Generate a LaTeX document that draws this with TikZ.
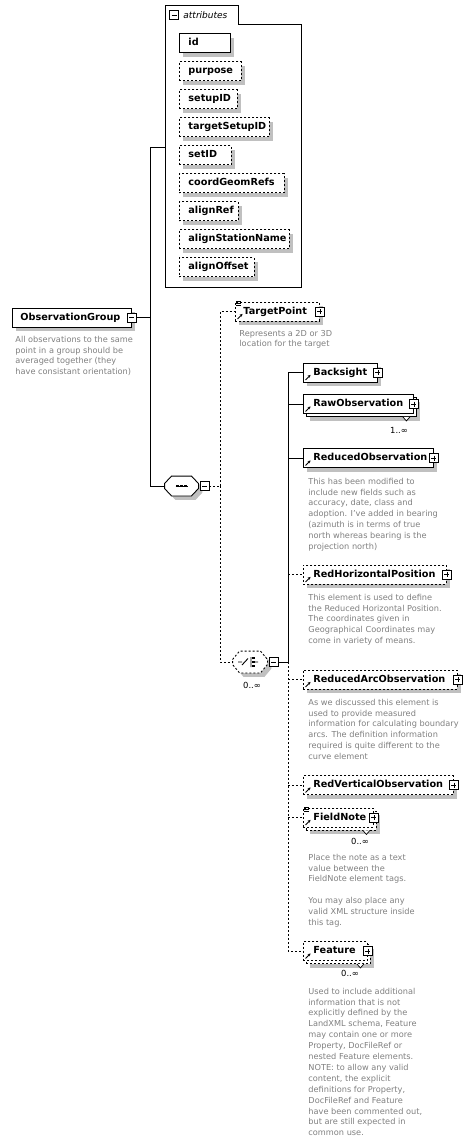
\documentclass[tikz,border=0pt]{standalone}
\usepackage{fontspec}
\setmainfont{DejaVu Sans}
\usetikzlibrary{arrows.meta,shadows,positioning}
\definecolor{shadowgray}{RGB}{192,192,192}
\definecolor{descgray}{RGB}{128,128,128}
\newcommand{\elemfont}{\bfseries\fontsize{9.7}{11}\selectfont}
\newcommand{\descfont}{\fontsize{8.2}{10.9}\selectfont}
\newcommand{\occfont}{\fontsize{8.4}{9}\selectfont}
\newcommand{\refarrow}[1]{\draw[line width=0.9pt, -{Stealth[length=2.8pt,width=3pt]}]
  ([xshift=2.5pt,yshift=2.5pt]#1.south west) -- ++(5,-5);}
\newcommand{\docmark}[1]{\foreach \k in {0,2,4}
  \draw[line width=0.7pt] ([xshift=1pt,yshift=-\k pt]#1.north west) -- ++(5,0);}
\newcommand{\octpath}[1]{([yshift=2.5pt]#1.west) -- ([xshift=7pt]#1.north west)
  -- ([xshift=-7pt]#1.north east) -- ([yshift=2.5pt]#1.east) -- ([yshift=-2.5pt]#1.east)
  -- ([xshift=-7pt]#1.south east) -- ([xshift=7pt]#1.south west) -- ([yshift=-2.5pt]#1.west) -- cycle}
\tikzset{
  opt/.style={dash pattern=on 2pt off 2pt},
  box/.style={draw, fill=white, font=\elemfont, anchor=west, align=left,
    minimum height=19pt, inner ysep=0pt, inner xsep=10pt, text height=7.2pt, text depth=2pt},
  elem/.style={box, drop shadow={shadow xshift=4pt, shadow yshift=-4pt, fill=shadowgray, opacity=1}},
  multi/.style={box, drop shadow={shadow xshift=7pt, shadow yshift=-7pt, fill=shadowgray, opacity=1},
    copy shadow={shadow xshift=3pt, shadow yshift=-3pt, fill=white, draw, #1}},
  multi/.default={},
  attr/.style={elem, inner xsep=9pt},
  comp/.style={inner sep=0pt, draw=none},
  minus/.style={draw, fill=white, minimum size=9pt, inner sep=0pt, line width=0.8pt,
    path picture={\draw ([xshift=2pt]path picture bounding box.west) -- ([xshift=-2pt]path picture bounding box.east);}},
  plus/.style={draw, fill=white, minimum size=9pt, inner sep=0pt, line width=0.8pt,
    path picture={\draw ([xshift=2pt]path picture bounding box.west) -- ([xshift=-2pt]path picture bounding box.east)
      ([yshift=-2pt]path picture bounding box.north) -- ([yshift=2pt]path picture bounding box.south);}},
  desc/.style={font=\descfont, text=descgray, anchor=north west, align=left, inner sep=0pt},
  occ/.style={font=\occfont, inner sep=0pt},
}
\begin{document}
\begin{tikzpicture}[x=1pt, y=-1pt, line width=0.9pt]
  \fill[white] (0,0) rectangle (472,1143);
  \useasboundingbox (0,0) rectangle (472,1143);

  % attributes
  \draw (165,287) -- (165,5) -- (238,5) -- (238,24) -- (301,24) -- (301,287) -- cycle;
  \node[minus] (attr-x) at (174,15) {};
  \node[font=\itshape\fontsize{9}{10}\selectfont, anchor=west, inner sep=0pt] (attr-lbl) at (183,15) {attributes};
  \coordinate (attrin) at (165,147);
  \node[attr, text width=33pt] (a1) at (179,43) {id};
  \foreach \name/\w [count=\i from 2] in {purpose/44, setupID/40, targetSetupID/72, setID/34,
      coordGeomRefs/87, alignRef/41, alignStationName/92, alignOffset/57}
    \node[attr, opt, text width=\w pt] (a\i) at (179,15+28*\i) {\name};

  % root
  \node[elem, text width=103pt, inner xsep=8pt] (og) at (12,317.5) {ObservationGroup};
  \node[minus] (og-x) at (og.east) {};
  \node[desc] (og-doc) at (15,335.5) {All observations to the same\\point in a group should be\\averaged together (they\\have consistant orientation)};

  % sequence
  \node[comp, minimum width=33pt, minimum height=19pt] (seq) at (181.5,486) {};
  \fill[shadowgray, transform canvas={shift={(4pt,-4pt)}}] \octpath{seq};
  \draw[fill=white] \octpath{seq};
  \draw ([xshift=-6pt]seq.center) -- ([xshift=6pt]seq.center);
  \foreach \d in {-4,0,4}
    \fill ([xshift=\d pt]seq.center) +(-1.3,-1.3) rectangle +(1.3,1.3);
  \node[minus] (seq-x) at (204.5,486) {};

  \coordinate (busA) at (150,147);
  \coordinate (busB) at (150,486);
  \draw (attrin) -- (busA) -- (busB) -- (seq.west);
  \draw (og-x.east) -- (og-x.east -| busA);

  % TargetPoint
  \node[elem, opt, text width=68pt, inner xsep=8pt] (tp) at (235,311.5) {TargetPoint};
  \node[desc] (tp-doc) at (239,329.5) {Represents a 2D or 3D\\location for the target};

  % choice
  \node[comp, minimum width=34pt, minimum height=21pt] (cho) at (250,662) {};
  \fill[shadowgray, transform canvas={shift={(4pt,-4pt)}}] \octpath{cho};
  \draw[opt, fill=white] \octpath{cho};
  \draw ([xshift=-12pt]cho.center) -- ([xshift=-8pt]cho.center)
    ([xshift=-8pt,yshift=-3pt]cho.center) -- ([xshift=-2pt,yshift=3.5pt]cho.center)
    ([xshift=1pt,yshift=5pt]cho.center) -- ([xshift=1pt,yshift=-5pt]cho.center)
    ([xshift=4pt]cho.center) -- ([xshift=8pt]cho.center);
  \foreach \d in {-4,0,4}
    \fill ([xshift=3.5pt,yshift=\d pt]cho.center) +(-1.3,-1.3) rectangle +(1.3,1.3);
  \node[minus] (cho-x) at (273.5,662) {};
  \node[occ] (cho-occ) at (252,685) {0..∞};

  \coordinate (b2) at (220,486);
  \draw[opt] (seq-x.east) -- (b2);
  \draw[opt] (b2) |- (tp.west);
  \draw[opt] (b2) |- (cho.west);

  % children
  \node[elem, text width=54pt] (bs) at (303,372.5) {Backsight};
  \node[multi, text width=90pt] (raw) at (303,404) {RawObservation};
  \node[occ] (raw-occ) at (399,430) {1..∞};
  \node[elem, text width=110pt] (redobs) at (303,458) {ReducedObservation};
  \node[desc] (redobs-doc) at (308,477.5) {This has been modified to\\include new fields such as\\accuracy, date, class and\\adoption. I've added in bearing\\(azimuth is in terms of true\\north whereas bearing is the\\projection north)};
  \node[elem, opt, text width=123pt] (rhp) at (303,574.5) {RedHorizontalPosition};
  \node[desc] (rhp-doc) at (308,593.5) {This element is used to define\\the Reduced Horizontal Position.\\The coordinates given in\\Geographical Coordinates may\\come in variety of means.};
  \node[elem, opt, text width=134pt] (rao) at (303,679.5) {ReducedArcObservation};
  \node[desc] (rao-doc) at (308,698.5) {As we discussed this element is\\used to provide measured\\information for calculating boundary\\arcs. The definition information\\required is quite different to the\\curve element};
  \node[elem, opt, text width=130pt] (rvo) at (303,785) {RedVerticalObservation};
  \node[multi=opt, opt, text width=50pt] (fnote) at (303,817.5) {FieldNote};
  \node[occ] (fnote-occ) at (360,841) {0..∞};
  \node[desc] (fnote-doc) at (308,853.5) {Place the note as a text\\value between the\\FieldNote element tags.\\[10.9pt]You may also place any\\valid XML structure inside\\this tag.};
  \node[multi=opt, opt, text width=44pt] (feat) at (303,951) {Feature};
  \node[occ] (feat-occ) at (350,973) {0..∞};
  \node[desc] (feat-doc) at (308,987.5) {Used to include additional\\information that is not\\explicitly defined by the\\LandXML schema, Feature\\may contain one or more\\Property, DocFileRef or\\nested Feature elements.\\NOTE: to allow any valid\\content, the explicit\\definitions for Property,\\DocFileRef and Feature\\have been commented out,\\but are still expected in\\common use.};

  \foreach \n in {tp,bs,raw,redobs,rhp,rao,rvo,fnote,feat} {
    \node[plus] (\n-x) at (\n.east) {};
    \refarrow{\n}
  }
  \docmark{tp}
  \docmark{fnote}
  \foreach \n in {raw,fnote,feat}
    \draw[line width=0.7pt, fill=white] ([xshift=-11pt,yshift=-3pt]\n.south east)
      -- ([xshift=-7.5pt,yshift=-7pt]\n.south east) -- ([xshift=-4pt,yshift=-3pt]\n.south east);

  \coordinate (b3) at (288,662);
  \draw (cho-x.east) -- (b3);
  \draw (b3) |- (bs.west);
  \draw (raw.west -| b3) -- (raw.west);
  \draw (redobs.west -| b3) -- (redobs.west);
  \draw[opt] (rhp.west -| b3) -- (rhp.west);
  \draw[opt] (b3) |- (feat.west);
  \foreach \n in {rao,rvo,fnote}
    \draw[opt] (\n.west -| b3) -- (\n.west);
\end{tikzpicture}
\end{document}
